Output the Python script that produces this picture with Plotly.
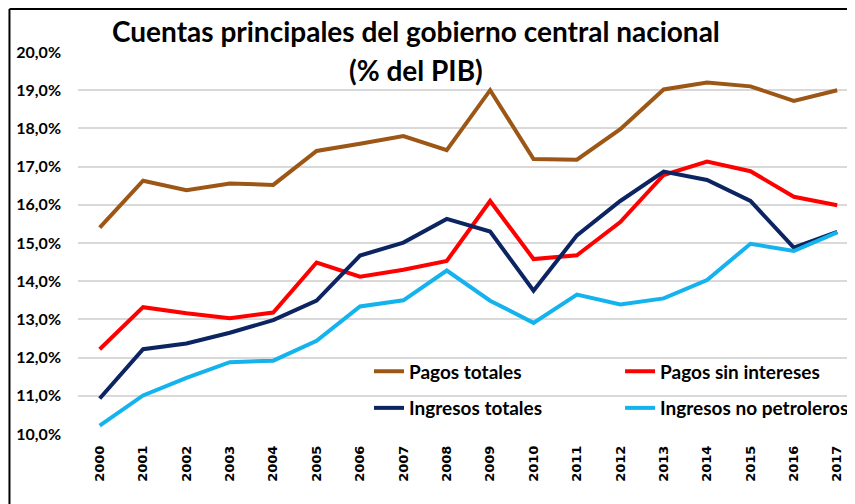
import plotly.graph_objects as go

years = [str(y) for y in range(2000, 2018)]
pagos_totales = [15.40, 16.63, 16.38, 16.56, 16.52, 17.41, 17.60, 17.80, 17.43, 19.00,
                 17.20, 17.18, 17.98, 19.02, 19.20, 19.10, 18.72, 19.00]
pagos_sin_intereses = [12.22, 13.32, 13.16, 13.03, 13.18, 14.49, 14.12, 14.30, 14.53, 16.10,
                       14.58, 14.68, 15.55, 16.78, 17.13, 16.88, 16.21, 15.99]
ingresos_totales = [10.93, 12.22, 12.37, 12.65, 12.98, 13.49, 14.67, 15.01, 15.63, 15.30,
                    13.75, 15.20, 16.10, 16.87, 16.65, 16.10, 14.88, 15.29]
ingresos_no_petroleros = [10.22, 11.01, 11.47, 11.88, 11.92, 12.44, 13.34, 13.50, 14.28, 13.49,
                          12.91, 13.65, 13.39, 13.55, 14.03, 14.98, 14.79, 15.28]
y_ticks = [10, 11, 12, 13, 14, 15, 16, 17, 18, 19, 20]
y_tick_labels = ["10,0%", "11,0%", "12,0%", "13,0%", "14,0%", "15,0%",
                 "16,0%", "17,0%", "18,0%", "19,0%", "20,0%"]

# name, values, colour, legend id, legend x (paper), legend y (paper)
series = [
    ("Pagos totales", pagos_totales, "#9C5716", "legend", 0.3745, 0.1636),
    ("Pagos sin intereses", pagos_sin_intereses, "#FF0000", "legend2", 0.6976, 0.1636),
    ("Ingresos totales", ingresos_totales, "#0C2461", "legend3", 0.3745, 0.0680),
    ("Ingresos no petroleros", ingresos_no_petroleros, "#15B3EE", "legend4", 0.6976, 0.0680),
]

xs = list(range(len(years)))
fig = go.Figure()
legends = {}
for name, vals, color, leg, lx, ly in series:
    fig.add_trace(go.Scatter(x=xs, y=vals, mode="lines", name=name,
                             line=dict(color=color, width=4), legend=leg))
    legends[leg] = dict(orientation="h", xanchor="left", x=lx, yanchor="middle", y=ly,
                        bgcolor="rgba(0,0,0,0)", borderwidth=0,
                        font=dict(family="Lato", size=19, color="black", weight="bold"))

fig.update_layout(
    width=855, height=504,
    margin=dict(l=70, r=8, t=44, b=78),
    paper_bgcolor="white", plot_bgcolor="white",
    showlegend=True,
    **legends,
    xaxis=dict(range=[-0.5, 17.41], tickmode="array", tickvals=xs, ticktext=years,
               tickangle=-90, showgrid=False, zeroline=False, showline=False,
               ticks="", ticklabelstandoff=8,
               tickfont=dict(family="DejaVu Sans", size=13, color="black", weight="bold")),
    yaxis=dict(range=[10, 20], tickmode="array", tickvals=y_ticks, ticktext=y_tick_labels,
               showgrid=True, gridcolor="#D9D9D9", gridwidth=1.5,
               zeroline=False, showline=False, ticks="", ticklabelstandoff=16,
               tickfont=dict(family="Lato", size=16, color="black", weight="bold")),
    annotations=[
        dict(text="Cuentas principales del gobierno central nacional", xref="paper", yref="paper",
             x=0.435, y=1.056, xanchor="center", yanchor="middle", showarrow=False,
             font=dict(family="Lato", size=28, color="black", weight="bold")),
        dict(text="(% del PIB)", xref="paper", yref="paper",
             x=0.435, y=0.9516, xanchor="center", yanchor="middle", showarrow=False,
             font=dict(family="Lato", size=28, color="black", weight="bold")),
    ],
    shapes=[
        dict(type="line", xref="paper", yref="paper", x0=-0.0882, x1=1.02, y0=1.1126, y1=1.1126,
             line=dict(color="black", width=2)),
        dict(type="line", xref="paper", yref="paper", x0=-0.0882, x1=-0.0882, y0=1.1126, y1=-0.3,
             line=dict(color="black", width=2)),
    ],
)

fig.write_html("out.html")
